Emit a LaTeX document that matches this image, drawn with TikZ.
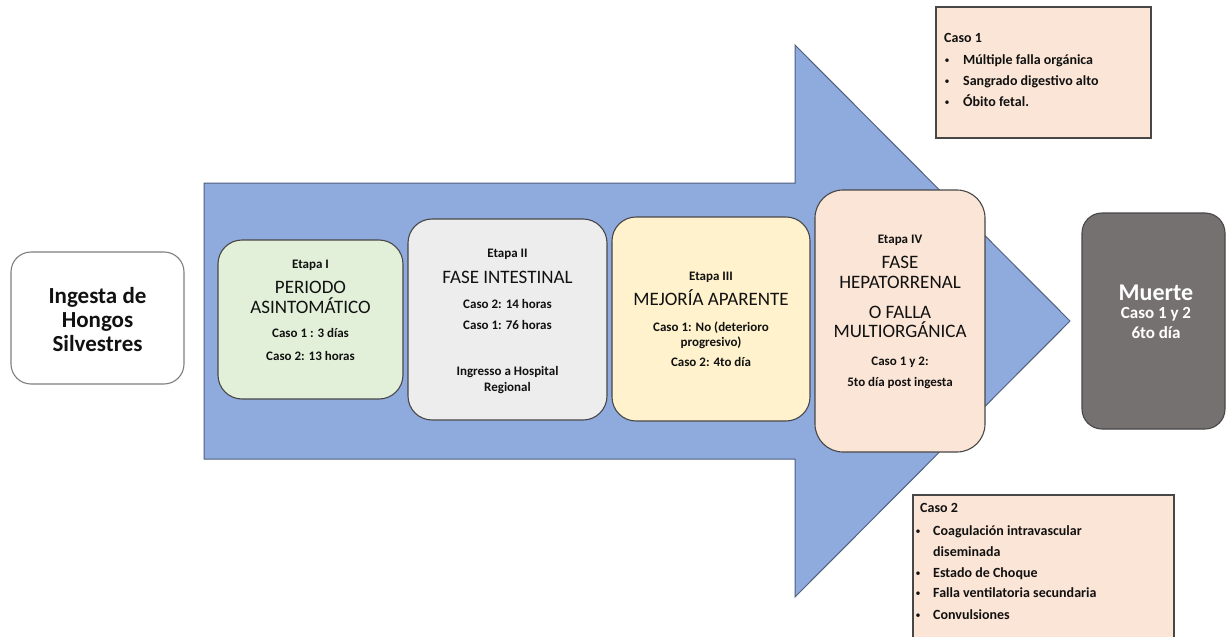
\documentclass[tikz,border=0pt]{standalone}
\usepackage{fontspec}
\setmainfont{Carlito}
\definecolor{arrowfill}{HTML}{8FAADC}
\definecolor{arrowline}{HTML}{4E5F7E}
\definecolor{boxline}{HTML}{474747}
\definecolor{cI}{HTML}{E2F0D9}
\definecolor{cII}{HTML}{EDEDED}
\definecolor{cIII}{HTML}{FFF2CC}
\definecolor{cIV}{HTML}{FBE5D6}
\definecolor{cdeath}{HTML}{767171}
\definecolor{ingline}{HTML}{7F7F7F}
\definecolor{txt}{HTML}{111111}
\begin{document}
\begin{tikzpicture}[x=1pt,y=-1pt,
  stagebox/.style={draw=boxline, line width=1.1pt, rounded corners=24pt, inner sep=0pt},
  notebox/.style={draw=boxline, line width=1.2pt, fill=cIV, inner sep=0pt},
  lab/.style={anchor=base, inner sep=0pt, text=txt, font=\bfseries\fontsize{13}{15}\selectfont},
  ttl/.style={anchor=base, inner sep=0pt, text=txt, font=\fontsize{19}{22}\selectfont},
  side/.style={anchor=base west, inner sep=0pt, text=txt, font=\bfseries\fontsize{14}{16}\selectfont},
  dot/.style={anchor=base, inner sep=0pt, text=txt, font=\fontsize{10}{12}\selectfont},
  big/.style={anchor=base, inner sep=0pt, text=txt, font=\bfseries\fontsize{23}{25}\selectfont},
  wht/.style={anchor=base, inner sep=0pt, text=white, font=\bfseries\fontsize{17}{19}\selectfont}
  ]
\clip (0,0) rectangle (1227,637);
\fill[white] (0,0) rectangle (1227,637);

% big arrow
\draw[fill=arrowfill, draw=arrowline, line width=1pt, line join=miter]
  (204,183) -- (795,183) -- (795,45) -- (1070,321) -- (795,597) -- (795,459) -- (204,459) -- cycle;

% ingestion box
\node[draw=ingline, line width=1.1pt, rounded corners=20pt, fill=white, minimum width=173pt, minimum height=132pt, inner sep=0pt] (ing) at (97.5,318) {};
\node[big] (inga) at (97.5,303) {Ingesta de};
\node[big] (ingb) at (97.5,327) {Hongos};
\node[big] (ingc) at (97.5,351) {Silvestres};

% Etapa I
\node[stagebox, fill=cI, minimum width=185pt, minimum height=159pt] (s1) at (310.5,319.5) {};
\node[lab] (s1a) at (310.5,268) {Etapa I};
\node[ttl] (s1b) at (310.5,293) {PERIODO};
\node[ttl] (s1c) at (310.5,313) {ASINTOMÁTICO};
\node[lab] (s1d) at (310.5,337) {Caso 1 : 3 días};
\node[lab] (s1e) at (310.5,360) {Caso 2: 13 horas};

% Etapa II
\node[stagebox, fill=cII, minimum width=199pt, minimum height=201pt] (s2) at (507.5,319.5) {};
\node[lab] (s2a) at (507.5,257) {Etapa II};
\node[ttl] (s2b) at (507.5,283) {FASE INTESTINAL};
\node[lab] (s2c) at (507.5,308) {Caso 2: 14 horas};
\node[lab] (s2d) at (507.5,329) {Caso 1: 76 horas};
\node[lab] (s2e) at (507.5,375) {Ingresso a Hospital};
\node[lab] (s2f) at (507.5,391) {Regional};

% Etapa III
\node[stagebox, fill=cIII, minimum width=198pt, minimum height=204pt] (s3) at (711,319) {};
\node[lab] (s3a) at (711,280) {Etapa III};
\node[ttl] (s3b) at (711,305) {MEJORÍA APARENTE};
\node[lab] (s3c) at (711,331) {Caso 1: No (deterioro};
\node[lab] (s3d) at (711,346) {progresivo)};
\node[lab] (s3e) at (711,366) {Caso 2: 4to día};

% Etapa IV
\node[stagebox, rounded corners=28pt, fill=cIV, minimum width=170pt, minimum height=262pt] (s4) at (900,321) {};
\node[lab] (s4a) at (900,243) {Etapa IV};
\node[ttl] (s4b) at (900,268) {FASE};
\node[ttl] (s4c) at (900,288) {HEPATORRENAL};
\node[ttl] (s4d) at (900,318) {O FALLA};
\node[ttl] (s4e) at (900,337) {MULTIORGÁNICA};
\node[lab] (s4f) at (900,365) {Caso 1 y 2:};
\node[lab] (s4g) at (900,386) {5to día post ingesta};

% Muerte
\node[draw=boxline, line width=1.1pt, rounded corners=20pt, fill=cdeath, minimum width=143pt, minimum height=216pt, inner sep=0pt] (death) at (1153.5,321) {};
\node[wht, font=\bfseries\fontsize{24}{26}\selectfont] (da) at (1156,300) {Muerte};
\node[wht] (db) at (1156,318) {Caso 1 y 2};
\node[wht] (dc) at (1156,338) {6to día};

% Caso 1 note
\node[notebox, minimum width=215pt, minimum height=131pt] (n1) at (1043.5,72.5) {};
\node[side] (n1a) at (944,42) {Caso 1};
\node[dot] (n1b1) at (947,63) {\textbullet};
\node[side] (n1b) at (963,64) {Múltiple falla orgánica};
\node[dot] (n1c1) at (947,84) {\textbullet};
\node[side] (n1c) at (963,85) {Sangrado digestivo alto};
\node[dot] (n1d1) at (947,105) {\textbullet};
\node[side] (n1d) at (963,106) {Óbito fetal.};

% Caso 2 note
\node[notebox, minimum width=261pt, minimum height=160pt] (n2) at (1043.5,575) {};
\node[side] (n2a) at (920,512) {Caso 2};
\node[dot] (n2b1) at (918,534) {\textbullet};
\node[side] (n2b) at (933,535) {Coagulación intravascular};
\node[side] (n2c) at (933,556) {diseminada};
\node[dot] (n2d1) at (918,576) {\textbullet};
\node[side] (n2d) at (933,577) {Estado de Choque};
\node[dot] (n2e1) at (918,596) {\textbullet};
\node[side] (n2e) at (933,597) {Falla ventilatoria secundaria};
\node[dot] (n2f1) at (918,618) {\textbullet};
\node[side] (n2f) at (933,619) {Convulsiones};
\end{tikzpicture}
\end{document}
